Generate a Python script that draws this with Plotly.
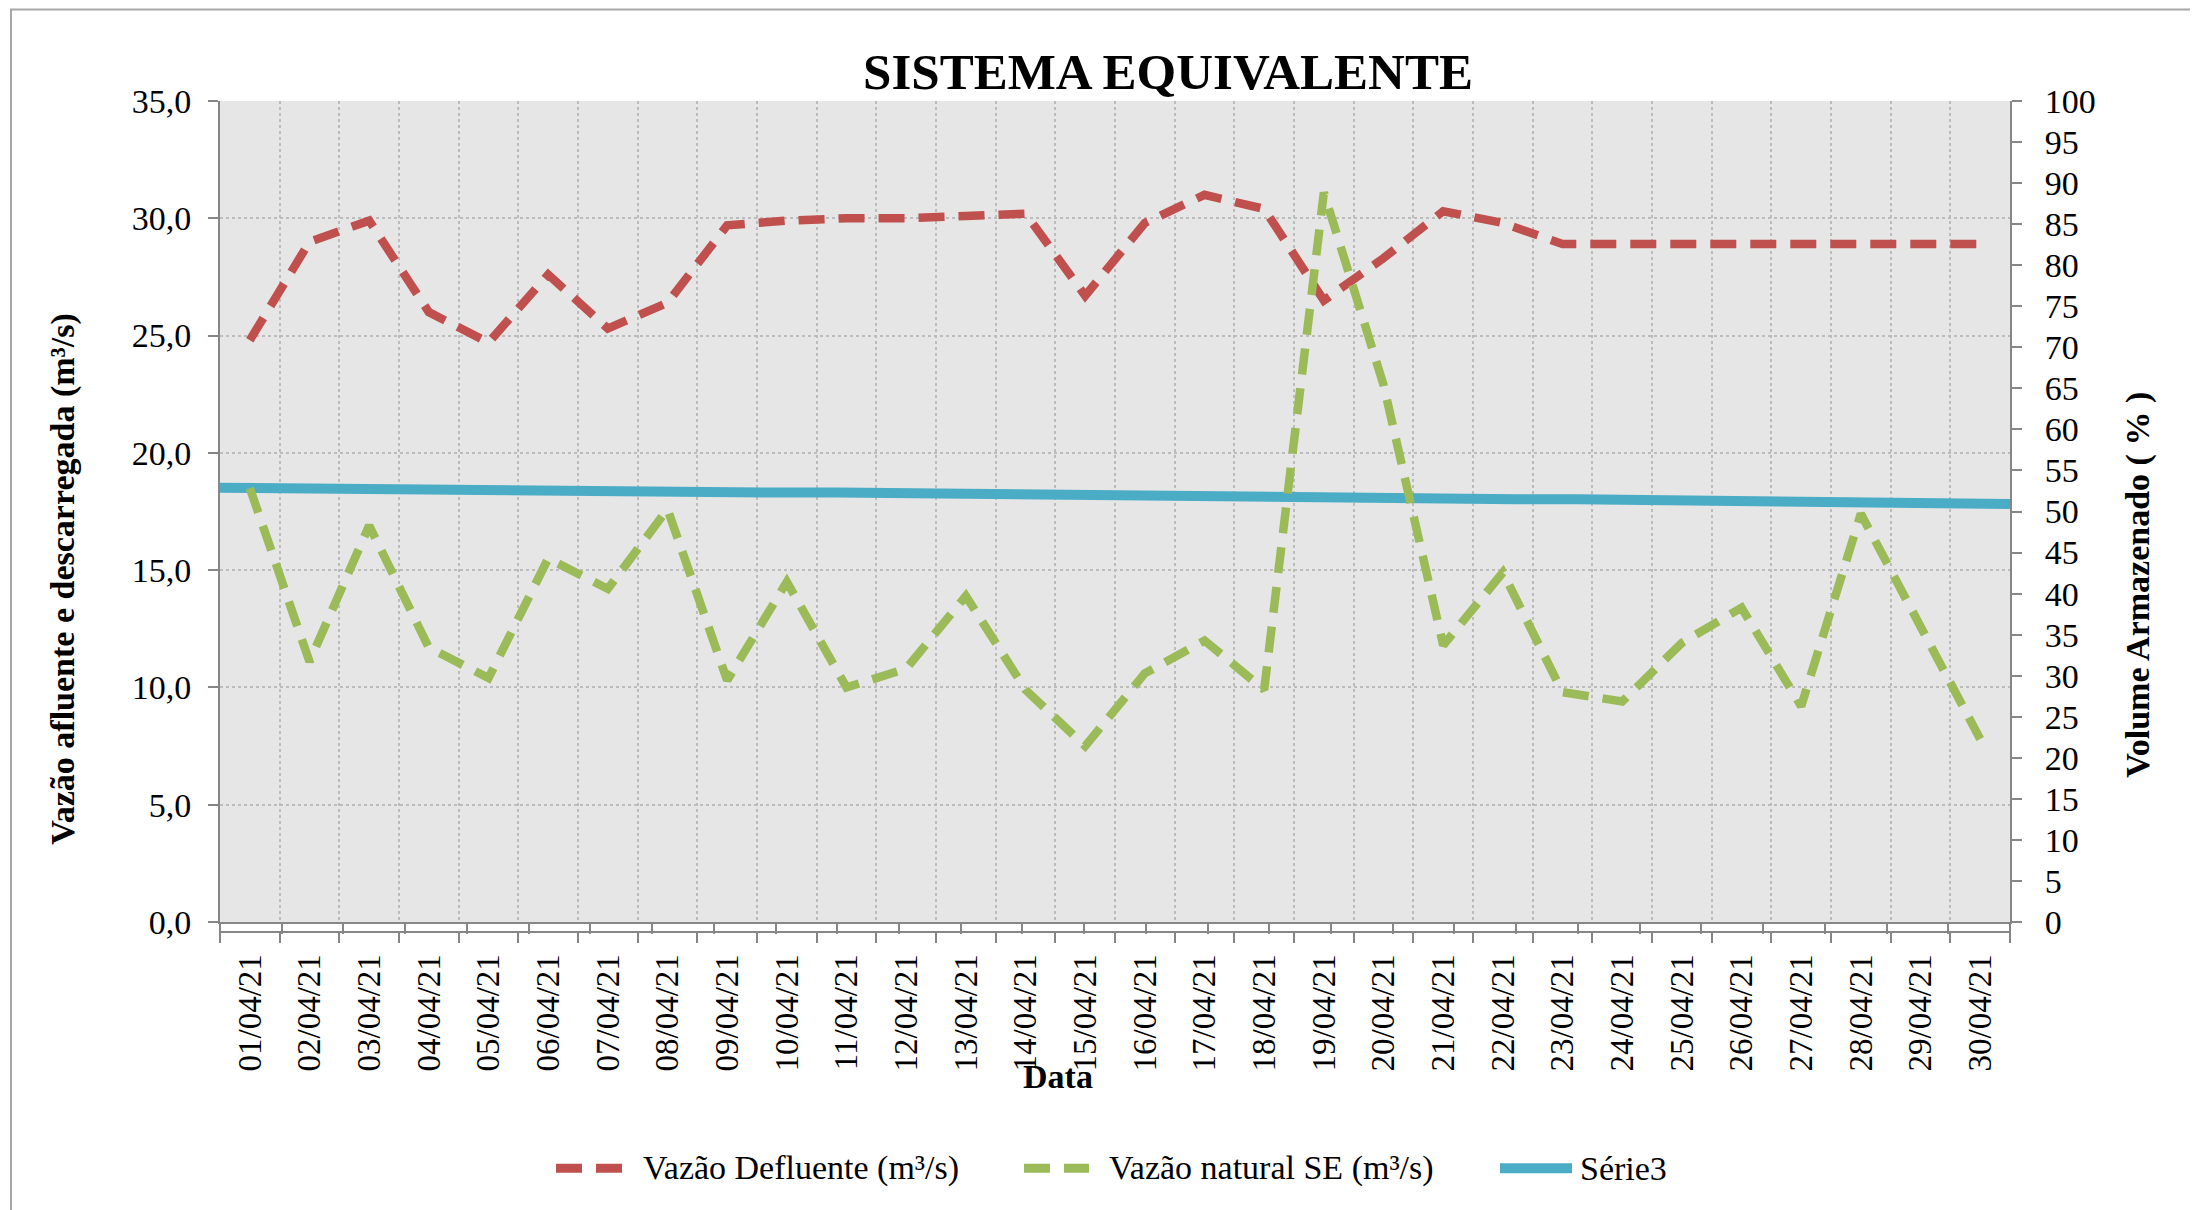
import plotly.graph_objects as go

# ---------------- data ----------------
datas = ["01/04/21", "02/04/21", "03/04/21", "04/04/21", "05/04/21", "06/04/21",
         "07/04/21", "08/04/21", "09/04/21", "10/04/21", "11/04/21", "12/04/21",
         "13/04/21", "14/04/21", "15/04/21", "16/04/21", "17/04/21", "18/04/21",
         "19/04/21", "20/04/21", "21/04/21", "22/04/21", "23/04/21", "24/04/21",
         "25/04/21", "26/04/21", "27/04/21", "28/04/21", "29/04/21", "30/04/21"]

vazao_defluente = [24.8, 29.0, 29.9, 26.0, 24.7, 27.6, 25.3, 26.4, 29.7, 29.9,
                   30.0, 30.0, 30.1, 30.2, 26.7, 29.8, 31.0, 30.4, 26.5, 28.3,
                   30.3, 29.8, 28.9, 28.9, 28.9, 28.9, 28.9, 28.9, 28.9, 28.9]

vazao_natural = [18.5, 11.1, 16.9, 11.7, 10.4, 15.5, 14.2, 17.6, 10.3, 14.5,
                 10.0, 10.8, 13.9, 9.9, 7.5, 10.6, 12.0, 9.9, 31.1, 22.9,
                 11.8, 14.9, 9.8, 9.4, 11.9, 13.4, 9.2, 17.4, 12.6, 7.8]

serie3 = [52.9, 52.8, 52.8, 52.7, 52.6, 52.6, 52.5, 52.5, 52.4, 52.3,
          52.3, 52.2, 52.1, 52.0, 52.0, 51.9, 51.8, 51.6, 51.7, 51.7,
          51.6, 51.5, 51.5, 51.4, 51.3, 51.2, 51.2, 51.1, 51.0, 50.9]

y_left_ticks = [0, 5, 10, 15, 20, 25, 30, 35]
y_right_ticks = list(range(0, 101, 5))

# ---------------- style / layout constants (screen pixels) ----------------
SW, SH = 2198, 1210          # browser window
OFF = 8                      # default page body margin
W, H = SW - OFF, SH - OFF    # figure size
PLOT_LEFT, PLOT_RIGHT, PLOT_TOP = 220, 2010, 101
PAPER_BOTTOM = 932.5         # primary (label) x axis line
PLOT_BOTTOM = 922.5          # bottom of plotting area
ML = PLOT_LEFT - OFF
MT = PLOT_TOP - OFF
MR = SW - PLOT_RIGHT
MB = SH - PAPER_BOTTOM
PW = PLOT_RIGHT - PLOT_LEFT
PH = PAPER_BOTTOM - PLOT_TOP
DY = (PAPER_BOTTOM - PLOT_BOTTOM) / PH

FONT = "Liberation Serif, Times New Roman, serif"
AX = "#868686"
GRID = "#BCBCBC"
RED = "#C0504D"
GREEN = "#9BBB59"
BLUE = "#4BACC6"


def px(xp):
    return (xp - PLOT_LEFT) / PW


def py(yp):
    return (PAPER_BOTTOM - yp) / PH


fig = go.Figure()

# Série3 on primary (hidden-label) axes: on-tick category axis + right y axis
fig.add_trace(go.Scatter(x=datas, y=serie3, name="Série3", mode="lines",
                         xaxis="x", yaxis="y",
                         line=dict(color=BLUE, width=10), showlegend=False))

fig.add_trace(go.Scatter(x=datas, y=vazao_defluente, name="Vazão Defluente (m³/s)",
                         mode="lines", xaxis="x2", yaxis="y2",
                         line=dict(color=RED, width=8.5, dash="26px,14px"),
                         showlegend=False))
fig.add_trace(go.Scatter(x=datas, y=vazao_natural, name="Vazão natural SE (m³/s)",
                         mode="lines", xaxis="x2", yaxis="y2",
                         line=dict(color=GREEN, width=8.5, dash="26px,14px"),
                         showlegend=False))

tickfont = dict(family=FONT, size=34, color="black")
xtickfont = dict(family=FONT, size=33, color="black")

fig.update_layout(
    width=W, height=H,
    margin=dict(l=ML, r=MR, t=MT, b=MB, pad=0),
    paper_bgcolor="white",
    plot_bgcolor="#E6E6E6",
    separators=",.",
    font=dict(family=FONT, color="black"),
    showlegend=False,
    title=dict(text="<b>SISTEMA EQUIVALENTE</b>", x=(1168 - OFF) / W, xref="container",
               xanchor="center", y=1 - (71 - OFF) / H, yref="container", yanchor="middle",
               font=dict(family=FONT, size=51, color="black")),
    xaxis=dict(type="category", categoryorder="array", categoryarray=datas,
               range=[0, len(datas) - 1], anchor="y", side="bottom",
               showgrid=False, zeroline=False, showticklabels=False,
               ticks="outside", ticklen=10, tickwidth=2, tickcolor=AX,
               showline=True, linecolor=AX, linewidth=2),
    yaxis=dict(range=[0, 100], side="right", anchor="x", domain=[DY, 1],
               tickmode="array", tickvals=y_right_ticks,
               ticktext=[str(v) for v in y_right_ticks],
               ticks="outside", ticklen=10, tickwidth=2, tickcolor=AX,
               showline=True, linecolor=AX, linewidth=2,
               showgrid=False, zeroline=False, tickfont=tickfont,
               ticklabelstandoff=16),
    xaxis2=dict(type="category", categoryorder="array", categoryarray=datas,
                overlaying="x", anchor="free", position=0, side="bottom",
                range=[-0.5, len(datas) - 0.5], tickson="boundaries",
                ticks="outside", ticklen=10, tickwidth=2, tickcolor=AX,
                showline=True, linecolor=AX, linewidth=2,
                showgrid=True, gridcolor=GRID, griddash="dot", gridwidth=1.5,
                zeroline=False, tickangle=-90, tickfont=xtickfont,
                ticklabelstandoff=8),
    yaxis2=dict(range=[0, 35], overlaying="y", side="left", anchor="x2",
                tickmode="array", tickvals=y_left_ticks, tickformat=".1f",
                ticks="outside", ticklen=10, tickwidth=2, tickcolor=AX,
                showline=True, linecolor=AX, linewidth=2,
                showgrid=True, gridcolor=GRID, griddash="dot", gridwidth=1.5,
                zeroline=False, tickfont=tickfont, ticklabelstandoff=10),
)

ann = []
ann.append(dict(text="<b>Vazão afluente e descarregada (m³/s)</b>", textangle=-90,
                x=px(63), y=py(580), xref="paper", yref="paper",
                xanchor="center", yanchor="middle", showarrow=False,
                font=dict(family=FONT, size=34, color="black")))
ann.append(dict(text="<b>Volume Armazenado ( % )</b>", textangle=-90,
                x=px(2138), y=py(585), xref="paper", yref="paper",
                xanchor="center", yanchor="middle", showarrow=False,
                font=dict(family=FONT, size=34, color="black")))
ann.append(dict(text="<b>Data</b>", x=px(1058), y=py(1077), xref="paper", yref="paper",
                xanchor="center", yanchor="middle", showarrow=False,
                font=dict(family=FONT, size=34, color="black")))

# manual legend
LEG_Y = 1169
legend_items = [
    ("Vazão Defluente (m³/s)", RED, "26px,14px", 556, 624, 641),
    ("Vazão natural SE (m³/s)", GREEN, "26px,14px", 1024, 1089, 1107),
    ("Série3", BLUE, "solid", 1500, 1572, 1578),
]
shapes = []
for name, col, dash, x0, x1, xt in legend_items:
    shapes.append(dict(type="line", xref="paper", yref="paper",
                       x0=px(x0), x1=px(x1), y0=py(LEG_Y), y1=py(LEG_Y),
                       line=dict(color=col, width=10 if dash == "solid" else 9, dash=dash)))
    ann.append(dict(text=name, x=px(xt), y=py(LEG_Y), xref="paper", yref="paper",
                    xanchor="left", yanchor="middle", showarrow=False,
                    font=dict(family=FONT, size=34, color="black")))

# outer chart border
shapes.append(dict(type="rect", xref="paper", yref="paper",
                   x0=px(11), x1=px(2400), y0=py(1400), y1=py(9.5),
                   line=dict(color="#A6A6A6", width=2), fillcolor="rgba(0,0,0,0)",
                   layer="above"))

fig.update_layout(annotations=ann, shapes=shapes)

fig.write_html("out.html")
